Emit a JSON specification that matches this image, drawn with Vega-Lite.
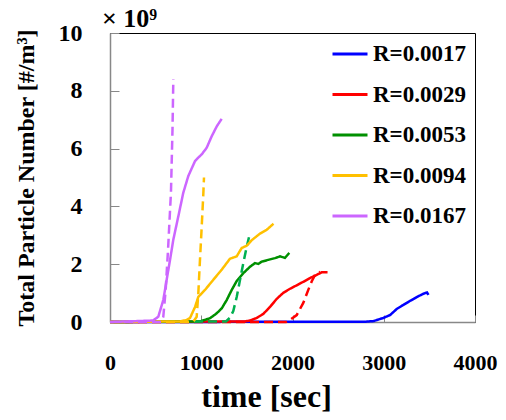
{
  "$schema": "https://vega.github.io/schema/vega-lite/v6.json",
  "width": 365,
  "height": 289,
  "autosize": "none",
  "padding": {"left": 110, "top": 33, "right": 31, "bottom": 98},
  "background": "white",
  "title": {"text": "× 10⁹", "anchor": "start", "frame": "group", "font": "Liberation Serif", "fontSize": 26, "fontWeight": "bold", "color": "black", "dx": -8, "dy": 17, "offset": 6},
  "config": {
    "view": {"stroke": "black", "strokeWidth": 1},
    "axis": {"grid": false, "labelFont": "Liberation Serif", "labelFontWeight": "bold", "labelColor": "black", "titleFont": "Liberation Serif", "titleFontWeight": "bold", "titleColor": "black", "domainColor": "#888888", "domainWidth": 1.5, "tickColor": "#888888", "tickWidth": 1, "labelFlush": false, "labelOverlap": false}
  },
  "data": {"values": [
    {"t":0,"v":0,"key":"R=0.0017","kind":"sim"},{"t":2795,"v":0.01,"key":"R=0.0017","kind":"sim"},{"t":2886,"v":0.03,"key":"R=0.0017","kind":"sim"},{"t":2995,"v":0.14,"key":"R=0.0017","kind":"sim"},{"t":3069,"v":0.24,"key":"R=0.0017","kind":"sim"},{"t":3142,"v":0.45,"key":"R=0.0017","kind":"sim"},{"t":3214,"v":0.59,"key":"R=0.0017","kind":"sim"},{"t":3288,"v":0.73,"key":"R=0.0017","kind":"sim"},{"t":3361,"v":0.86,"key":"R=0.0017","kind":"sim"},{"t":3416,"v":0.95,"key":"R=0.0017","kind":"sim"},{"t":3452,"v":1.0,"key":"R=0.0017","kind":"sim"},{"t":3474,"v":1.02,"key":"R=0.0017","kind":"sim"},{"t":3490,"v":0.94,"key":"R=0.0017","kind":"sim"},
    {"t":0,"v":0,"key":"R=0.0029","kind":"sim"},{"t":1480,"v":0.02,"key":"R=0.0029","kind":"sim"},{"t":1534,"v":0.05,"key":"R=0.0029","kind":"sim"},{"t":1608,"v":0.14,"key":"R=0.0029","kind":"sim"},{"t":1680,"v":0.28,"key":"R=0.0029","kind":"sim"},{"t":1753,"v":0.52,"key":"R=0.0029","kind":"sim"},{"t":1827,"v":0.8,"key":"R=0.0029","kind":"sim"},{"t":1899,"v":1.01,"key":"R=0.0029","kind":"sim"},{"t":1973,"v":1.15,"key":"R=0.0029","kind":"sim"},{"t":2046,"v":1.27,"key":"R=0.0029","kind":"sim"},{"t":2118,"v":1.39,"key":"R=0.0029","kind":"sim"},{"t":2192,"v":1.52,"key":"R=0.0029","kind":"sim"},{"t":2265,"v":1.63,"key":"R=0.0029","kind":"sim"},{"t":2320,"v":1.72,"key":"R=0.0029","kind":"sim"},{"t":2384,"v":1.72,"key":"R=0.0029","kind":"sim"},
    {"t":0,"v":0,"key":"R=0.0029 model","kind":"model"},{"t":1929,"v":0,"key":"R=0.0029 model","kind":"model"},{"t":1973,"v":0.07,"key":"R=0.0029 model","kind":"model"},{"t":2046,"v":0.24,"key":"R=0.0029 model","kind":"model"},{"t":2118,"v":0.66,"key":"R=0.0029 model","kind":"model"},{"t":2173,"v":1.11,"key":"R=0.0029 model","kind":"model"},{"t":2210,"v":1.4,"key":"R=0.0029 model","kind":"model"},{"t":2247,"v":1.63,"key":"R=0.0029 model","kind":"model"},{"t":2302,"v":1.74,"key":"R=0.0029 model","kind":"model"},
    {"t":0,"v":0,"key":"R=0.0053","kind":"sim"},{"t":986,"v":0.02,"key":"R=0.0053","kind":"sim"},{"t":1096,"v":0.13,"key":"R=0.0053","kind":"sim"},{"t":1169,"v":0.3,"key":"R=0.0053","kind":"sim"},{"t":1224,"v":0.47,"key":"R=0.0053","kind":"sim"},{"t":1279,"v":0.76,"key":"R=0.0053","kind":"sim"},{"t":1334,"v":1.11,"key":"R=0.0053","kind":"sim"},{"t":1389,"v":1.42,"key":"R=0.0053","kind":"sim"},{"t":1461,"v":1.69,"key":"R=0.0053","kind":"sim"},{"t":1534,"v":1.91,"key":"R=0.0053","kind":"sim"},{"t":1589,"v":2.04,"key":"R=0.0053","kind":"sim"},{"t":1625,"v":2.01,"key":"R=0.0053","kind":"sim"},{"t":1663,"v":2.09,"key":"R=0.0053","kind":"sim"},{"t":1735,"v":2.15,"key":"R=0.0053","kind":"sim"},{"t":1808,"v":2.21,"key":"R=0.0053","kind":"sim"},{"t":1863,"v":2.27,"key":"R=0.0053","kind":"sim"},{"t":1918,"v":2.22,"key":"R=0.0053","kind":"sim"},{"t":1965,"v":2.39,"key":"R=0.0053","kind":"sim"},
    {"t":0,"v":0,"key":"R=0.0053 model","kind":"model"},{"t":1271,"v":0.02,"key":"R=0.0053 model","kind":"model"},{"t":1315,"v":0.15,"key":"R=0.0053 model","kind":"model"},{"t":1351,"v":0.38,"key":"R=0.0053 model","kind":"model"},{"t":1389,"v":0.87,"key":"R=0.0053 model","kind":"model"},{"t":1425,"v":1.46,"key":"R=0.0053 model","kind":"model"},{"t":1461,"v":2.04,"key":"R=0.0053 model","kind":"model"},{"t":1498,"v":2.6,"key":"R=0.0053 model","kind":"model"},{"t":1523,"v":2.93,"key":"R=0.0053 model","kind":"model"},
    {"t":0,"v":0,"key":"R=0.0094","kind":"sim"},{"t":767,"v":0.02,"key":"R=0.0094","kind":"sim"},{"t":840,"v":0.07,"key":"R=0.0094","kind":"sim"},{"t":877,"v":0.14,"key":"R=0.0094","kind":"sim"},{"t":932,"v":0.52,"key":"R=0.0094","kind":"sim"},{"t":968,"v":0.87,"key":"R=0.0094","kind":"sim"},{"t":1041,"v":1.11,"key":"R=0.0094","kind":"sim"},{"t":1132,"v":1.46,"key":"R=0.0094","kind":"sim"},{"t":1224,"v":1.81,"key":"R=0.0094","kind":"sim"},{"t":1315,"v":2.19,"key":"R=0.0094","kind":"sim"},{"t":1388,"v":2.27,"key":"R=0.0094","kind":"sim"},{"t":1443,"v":2.56,"key":"R=0.0094","kind":"sim"},{"t":1498,"v":2.64,"key":"R=0.0094","kind":"sim"},{"t":1553,"v":2.83,"key":"R=0.0094","kind":"sim"},{"t":1644,"v":3.06,"key":"R=0.0094","kind":"sim"},{"t":1717,"v":3.19,"key":"R=0.0094","kind":"sim"},{"t":1792,"v":3.4,"key":"R=0.0094","kind":"sim"},
    {"t":0,"v":0,"key":"R=0.0094 model","kind":"model"},{"t":910,"v":0,"key":"R=0.0094 model","kind":"model"},{"t":950,"v":0.18,"key":"R=0.0094 model","kind":"model"},{"t":968,"v":1.0,"key":"R=0.0094 model","kind":"model"},{"t":986,"v":2.15,"key":"R=0.0094 model","kind":"model"},{"t":1005,"v":3.3,"key":"R=0.0094 model","kind":"model"},{"t":1023,"v":4.45,"key":"R=0.0094 model","kind":"model"},{"t":1030,"v":5.0,"key":"R=0.0094 model","kind":"model"},
    {"t":0,"v":0,"key":"R=0.0167","kind":"sim"},{"t":470,"v":0.05,"key":"R=0.0167","kind":"sim"},{"t":529,"v":0.18,"key":"R=0.0167","kind":"sim"},{"t":584,"v":0.76,"key":"R=0.0167","kind":"sim"},{"t":621,"v":1.46,"key":"R=0.0167","kind":"sim"},{"t":658,"v":2.15,"key":"R=0.0167","kind":"sim"},{"t":694,"v":2.85,"key":"R=0.0167","kind":"sim"},{"t":749,"v":3.66,"key":"R=0.0167","kind":"sim"},{"t":803,"v":4.47,"key":"R=0.0167","kind":"sim"},{"t":858,"v":5.05,"key":"R=0.0167","kind":"sim"},{"t":932,"v":5.57,"key":"R=0.0167","kind":"sim"},{"t":968,"v":5.69,"key":"R=0.0167","kind":"sim"},{"t":1005,"v":5.8,"key":"R=0.0167","kind":"sim"},{"t":1060,"v":6.03,"key":"R=0.0167","kind":"sim"},{"t":1115,"v":6.43,"key":"R=0.0167","kind":"sim"},{"t":1170,"v":6.77,"key":"R=0.0167","kind":"sim"},{"t":1224,"v":7.03,"key":"R=0.0167","kind":"sim"},
    {"t":0,"v":0,"key":"R=0.0167 model","kind":"model"},{"t":560,"v":0,"key":"R=0.0167 model","kind":"model"},{"t":584,"v":0.18,"key":"R=0.0167 model","kind":"model"},{"t":610,"v":1.11,"key":"R=0.0167 model","kind":"model"},{"t":636,"v":2.5,"key":"R=0.0167 model","kind":"model"},{"t":668,"v":4.48,"key":"R=0.0167 model","kind":"model"},{"t":685,"v":6.67,"key":"R=0.0167 model","kind":"model"},{"t":694,"v":8.4,"key":"R=0.0167 model","kind":"model"}
  ]},
  "mark": {"type": "line", "strokeWidth": 2.5},
  "encoding": {
    "x": {"field": "t", "type": "quantitative", "scale": {"domain": [0, 4000], "nice": false},
      "axis": {"values": [0, 1000, 2000, 3000, 4000], "format": "d", "title": "time [sec]", "tickSize": -7, "labelFontSize": 22, "labelPadding": 37, "titleFontSize": 32, "titlePadding": 8, "titleX": 156}},
    "y": {"field": "v", "type": "quantitative", "scale": {"domain": [0, 10], "nice": false},
      "axis": {"values": [0, 2, 4, 6, 8, 10], "title": "Total Particle Number [#/m³]", "tickSize": -9, "labelFontSize": 24, "labelPadding": 37, "titleFontSize": 24, "titlePadding": 20}},
    "color": {"field": "key", "type": "nominal",
      "scale": {"domain": ["R=0.0017", "R=0.0029", "R=0.0053", "R=0.0094", "R=0.0167", "R=0.0029 model", "R=0.0053 model", "R=0.0094 model", "R=0.0167 model"],
                "range": ["#0000FF", "#FF0000", "#009000", "#FFC000", "#CC66FF", "#FF0000", "#00B050", "#FFC000", "#CC66FF"]},
      "legend": {"values": ["R=0.0017", "R=0.0029", "R=0.0053", "R=0.0094", "R=0.0167"], "title": null, "orient": "none", "legendX": 221, "legendY": 2, "symbolType": "stroke", "symbolSize": 1225, "symbolStrokeWidth": 3, "labelFont": "Liberation Serif", "labelFontSize": 23, "labelFontWeight": "bold", "labelColor": "black", "labelOffset": 4, "rowPadding": 9.5, "padding": 0}},
    "strokeDash": {"field": "kind", "type": "nominal", "scale": {"domain": ["sim", "model"], "range": [[1, 0], [9, 5]]}, "legend": null}
  }
}
